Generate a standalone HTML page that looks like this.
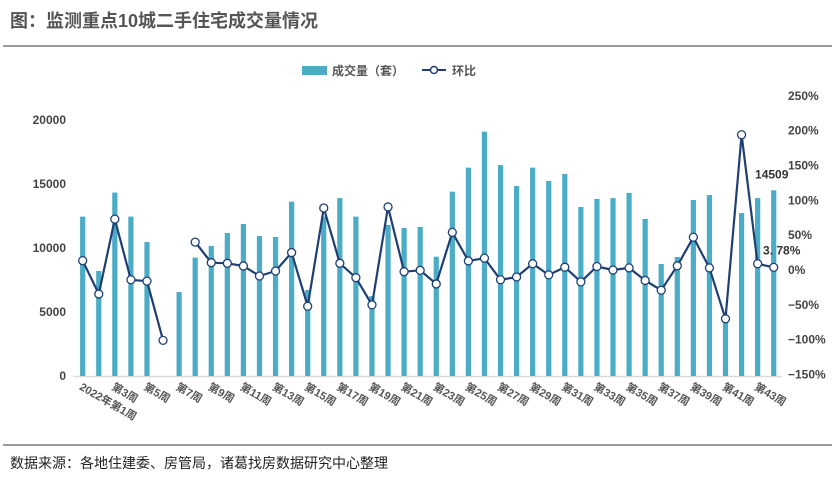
<!DOCTYPE html>
<html><head><meta charset="utf-8">
<style>
body{margin:0;background:#fff;width:832px;height:481px;overflow:hidden;font-family:"Liberation Sans","Noto Sans CJK SC",sans-serif;}
svg{display:block}
</style></head>
<body>
<svg id="chart" width="832" height="481" xmlns="http://www.w3.org/2000/svg" font-family="Liberation Sans, Noto Sans CJK SC, sans-serif">
<text x="10" y="27" font-size="18" font-weight="bold" fill="#555">图：监测重点10城二手住宅成交量情况</text>
<rect x="3" y="45" width="829" height="2" fill="#9a9a9a"/>
<g>
<rect x="302" y="66" width="25" height="9" fill="#4bacc6"/>
<text x="332" y="75" font-size="12" font-weight="bold" fill="#555">成交量（套）</text>
<line x1="422" y1="70" x2="446" y2="70" stroke="#1f3f73" stroke-width="2"/>
<circle cx="434" cy="70" r="3.5" fill="#fff" stroke="#1f3f73" stroke-width="1.5"/>
<text x="452" y="75" font-size="12" font-weight="bold" fill="#555">环比</text>
</g>
<g id="axes"></g>
<g id="bars"></g>
<g id="line"></g>
<g id="labels"></g>
<rect x="3" y="444" width="829" height="2" fill="#9a9a9a"/>
<text x="10" y="468" font-size="14" fill="#222">数据来源：各地住建委、房管局，诸葛找房数据研究中心整理</text>
</svg>
<script>
const weeks = [1,2,3,4,5,6,7,8,9,10,11,12,13,14,15,16,17,18,19,20,21,22,23,24,25,26,27,28,29,30,31,32,33,34,35,36,37,38,39,40,41,42,43,44];
const volume = [12450,8200,14330,12450,10470,0,6560,9250,10160,11170,11875,10940,10860,13620,6720,12450,13900,12450,6250,11800,11570,11640,9320,14400,16280,19090,16480,14840,16280,15230,15780,13200,13830,13900,14300,12270,8750,9300,13750,14140,4500,12730,13900,14509];
const mom = [13.4,-34.5,73,-14,-16,-101,null,40,10.5,9.6,5.8,-8.6,-1.4,25,-52,89,9.6,-11,-50,90.5,-2.4,-0.5,-20,54,13,17,-14,-10,9,-7,4,-17,5,0,3,-15,-29,6,47,3,-70,194,9,3.78];
const leftTicks = [0,5000,10000,15000,20000];
const rightTicks = [-150,-100,-50,0,50,100,150,200,250];
const xLabels = ["2022年第1周","第3周","第5周","第7周","第9周","第11周","第13周","第15周","第17周","第19周","第21周","第23周","第25周","第27周","第29周","第31周","第33周","第35周","第37周","第39周","第41周","第43周"];

const NS="http://www.w3.org/2000/svg";
function mk(tag,attrs,parent,txt){const e=document.createElementNS(NS,tag);for(const k in attrs)e.setAttribute(k,attrs[k]);if(txt!==undefined)e.textContent=txt;parent.appendChild(e);return e;}
const xPos = i => 82.7 + i*16.07;
const yL = v => 376 - v*0.0128;
const yR = p => 270 - p*0.697;

const axes=document.getElementById('axes');
let base=mk('line',{x1:73,y1:376.5,x2:782,y2:376.5,stroke:'#d9d9d9','stroke-width':1.5},axes);


leftTicks.forEach(t=>{
 const e=mk('text',{x:66,y:yL(t)+4,'text-anchor':'end','font-size':12,'font-weight':'bold',fill:'#444'},axes,String(t));
 
 
});
rightTicks.forEach(t=>{
 const e=mk('text',{x:788,y:yR(t)+4,'font-size':12,'font-weight':'bold',fill:'#444'},axes,(t<0?'−'+(-t):t)+'%');
 
 
});
xLabels.forEach((l,k)=>{
 const x=xPos(k*2)-4, y=389;
 const e=mk('text',{x:x,y:y,'font-size':11,'font-weight':'bold',fill:'#555',transform:`rotate(30 ${x} ${y})`},axes,l);
 
 
});

const bars=document.getElementById('bars');
volume.forEach((v,i)=>{
 if(!v)return;
 const r=mk('rect',{x:xPos(i)-2.6,y:yL(v),width:5.2,height:376-yL(v),fill:'#4bacc6'},bars);
 
 
});

const lineG=document.getElementById('line');
let d='',pen=false;
mom.forEach((p,i)=>{
 if(p===null){pen=false;return;}
 d+=(pen?'L':'M')+xPos(i).toFixed(1)+' '+yR(p).toFixed(1)+' ';pen=true;
});
const path=mk('path',{d:d,fill:'none',stroke:'#1f3f73','stroke-width':2.2,'stroke-linejoin':'round'},lineG);


mom.forEach((p,i)=>{
 if(p===null)return;
 const c=mk('circle',{cx:xPos(i),cy:yR(p),r:4,fill:'#fff',stroke:'#1f3f73','stroke-width':1.3},lineG);
 
 
});

const labels=document.getElementById('labels');
const last=volume.length-1;
const vl=mk('text',{x:xPos(last)-2,y:yL(volume[last])-12,'text-anchor':'middle','font-size':12,'font-weight':'bold',fill:'#333'},labels,String(volume[last]));


const ml=mk('text',{x:xPos(last)+8,y:yR(mom[last])-13,'text-anchor':'middle','font-size':12,'font-weight':'bold',fill:'#333'},labels,mom[last].toFixed(2).replace('.','. ')+'%');


</script>
</body></html>
